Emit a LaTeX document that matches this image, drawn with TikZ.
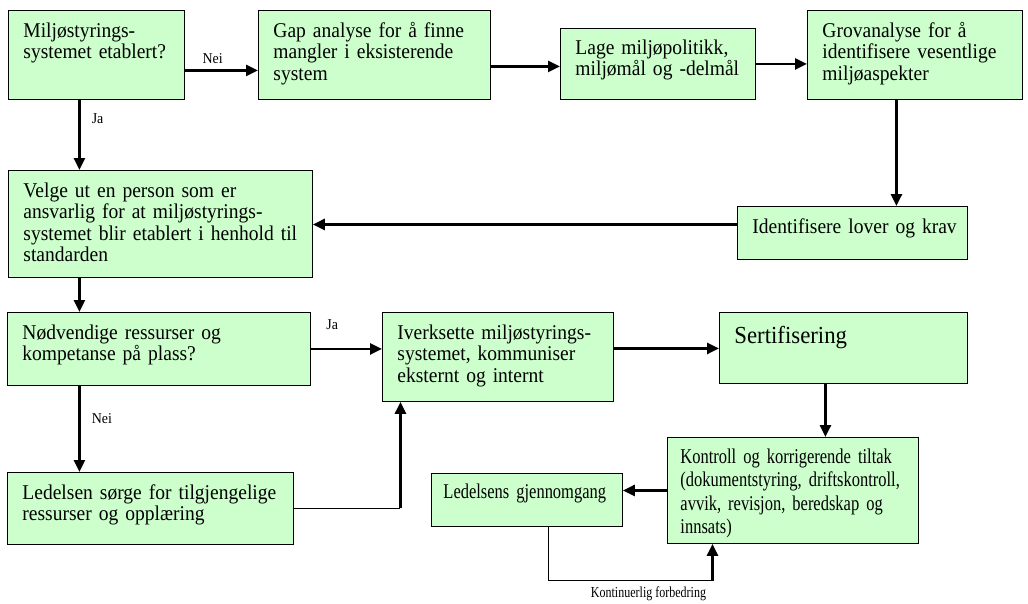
\documentclass[tikz,border=0pt]{standalone}
\usepackage{fontspec}
\setmainfont{Liberation Serif}[FakeStretch=0.93]
\newfontfamily\tallfont{Liberation Serif}[FakeStretch=0.785]
\usetikzlibrary{arrows.meta}
\definecolor{boxgreen}{RGB}{204,255,204}

\begin{document}
\begin{tikzpicture}[x=1pt, y=-1pt,
  every node/.style={font=\fontsize{21}{21.5}\selectfont},
  stepbox/.style={draw, line width=0.9pt, fill=boxgreen, anchor=north west,
    inner sep=0pt, align=left, text height=27pt,
    execute at begin node={\leftskip=#1}},
  stepbox/.default=15pt,
  flow/.style={line width=2.7pt, -{Triangle[length=12pt, width=11pt]}},
  backline/.style={line width=1.1pt},
  lbl/.style={font=\fontsize{15}{15}\selectfont, inner sep=1pt}]
  \useasboundingbox (0,0) rectangle (1028,603);
  % first row
  \node[stepbox, text width=176pt, text depth=62pt] (etablert) at (8,10) {Miljøstyrings-\\systemet etablert?};
  \node[stepbox, text width=232pt, text depth=62pt] (gap) at (258,10) {Gap analyse for å finne\\mangler i eksisterende\\system};
  \node[stepbox, text width=195pt, text height=26pt, text depth=45pt] (politikk) at (560,28) {Lage miljøpolitikk,\\miljømål og -delmål};
  \node[stepbox, text width=215pt, text depth=62pt] (grov) at (807,10) {Grovanalyse for å\\identifisere vesentlige\\miljøaspekter};
  % second row
  \node[stepbox, text width=304pt, text depth=80pt] (ansvarlig) at (8,170) {Velge ut en person som er\\ansvarlig for at miljøstyrings-\\systemet blir etablert i henhold til\\standarden};
  \node[stepbox, text width=230pt, text depth=26pt] (lover) at (737,206) {Identifisere lover og krav};
  % third row
  \node[stepbox, text width=303pt, text depth=46pt] (ressurser) at (7,312) {Nødvendige ressurser og\\kompetanse på plass?};
  \node[stepbox, text width=231pt, text depth=62pt] (iverksette) at (382,312) {Iverksette miljøstyrings-\\systemet, kommuniser\\eksternt og internt};
  \node[stepbox, text width=248pt, text height=31pt, text depth=40pt, font=\fontsize{24.5}{25}\selectfont] (sertifisering) at (719,312) {Sertifisering};
  % bottom row
  \node[stepbox, text width=286pt, text depth=45pt] (ledelsen) at (7,472) {Ledelsen sørge for tilgjengelige\\ressurser og opplæring};
  \node[stepbox=12pt, text width=191pt, text height=25pt, text depth=28pt, font=\tallfont\fontsize{21}{23.4}\selectfont] (gjennomgang) at (431,473) {Ledelsens gjennomgang};
  \node[stepbox=13pt, text width=251pt, text height=26pt, text depth=80pt, font=\tallfont\fontsize{21}{23.4}\selectfont] (kontroll) at (667,437) {Kontroll og korrigerende tiltak\\(dokumentstyring, driftskontroll,\\avvik, revisjon, beredskap og\\innsats)};

  % top flow
  \draw[flow] ([yshift=-15.5pt]etablert.east) -- ([yshift=-15.5pt]etablert.east -| gap.west)
    node[lbl, pos=0.38, above=4pt] (nei1) {Nei};
  \draw[flow] ([yshift=-11.5pt]gap.east) -- ([yshift=-11.5pt]gap.east -| politikk.west);
  \draw[flow] (politikk.east) -- (politikk.east -| grov.west);
  \draw[flow] ([xshift=-18.5pt]grov.south) -- ([xshift=-18.5pt]grov.south |- lover.north);
  \draw[flow] ([yshift=8.5pt]lover.west) -- ([yshift=8.5pt]lover.west -| ansvarlig.east);
  \draw[flow] ([xshift=-17pt]etablert.south) -- ([xshift=-17pt]etablert.south |- ansvarlig.north)
    node[lbl, pos=0.27, right=10pt] (ja1) {Ja};
  \draw[flow] ([xshift=-81pt]ansvarlig.south) -- ([xshift=-81pt]ansvarlig.south |- ressurser.north);
  % middle flow
  \draw[flow] (ressurser.east) -- (ressurser.east -| iverksette.west)
    node[lbl, pos=0.3, above=17pt] (ja2) {Ja};
  \draw[flow] ([yshift=8.5pt]iverksette.east) -- ([yshift=8.5pt]iverksette.east -| sertifisering.west);
  \draw[flow] ([xshift=-18pt]sertifisering.south) -- ([xshift=-18pt]sertifisering.south |- kontroll.north);
  \draw[flow] ([xshift=-79.5pt]ressurser.south) -- ([xshift=-79.5pt]ressurser.south |- ledelsen.north)
    node[lbl, pos=0.38, right=10pt] (nei2) {Nei};
  % back to iverksette
  \coordinate (hjorne) at ([xshift=-97.5pt]iverksette.south |- ledelsen.east);
  \draw[backline] (ledelsen.east) -- (hjorne);
  \draw[flow] (hjorne) -- ([xshift=-97.5pt]iverksette.south);
  % review loop
  \draw[flow] (kontroll.west) -- (kontroll.west -| gjennomgang.east);
  \coordinate (lfot) at ([xshift=21.5pt]gjennomgang.south);
  \coordinate (kfot) at ([xshift=-80.5pt]kontroll.south);
  \coordinate (bunn) at ([yshift=-54pt]lfot);
  \draw[backline] (lfot) -- (bunn) -- (bunn -| kfot)
    node[lbl, font=\tallfont\fontsize{15.3}{15.3}\selectfont, pos=0.61, below=4pt] (forbedring) {Kontinuerlig forbedring};
  \draw[flow] (bunn -| kfot) -- (kfot);
\end{tikzpicture}
\end{document}
